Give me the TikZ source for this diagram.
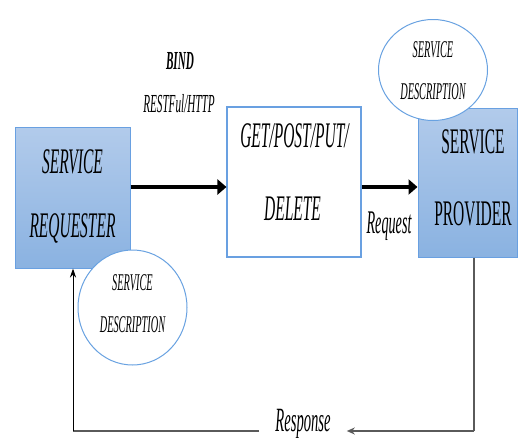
\documentclass[tikz,border=0pt]{standalone}
\usepackage{fontspec}
\setmainfont{Liberation Serif}
\newfontfamily\cf[FakeStretch=0.43]{Liberation Serif}
\usetikzlibrary{shapes.geometric,arrows.meta}
\definecolor{boxtop}{RGB}{178,203,235}
\definecolor{boxbot}{RGB}{138,178,225}
\definecolor{boxline}{RGB}{105,160,225}
\definecolor{circline}{RGB}{105,162,225}
\definecolor{respgray}{RGB}{90,90,90}
\tikzset{
  bluebox/.style={rectangle, top color=boxtop, bottom color=boxbot, draw=boxline, line width=1pt, inner sep=0pt},
  whitebox/.style={rectangle, fill=white, draw=boxline, line width=1.1pt, inner sep=0pt},
  desc/.style={ellipse, fill=white, draw=circline, line width=1pt, inner sep=0pt},
  bigtxt/.style={font=\cf\itshape\fontsize{36}{36}\selectfont, inner sep=0pt},
  bigup/.style={font=\cf\fontsize{36}{36}\selectfont, inner sep=0pt},
  smalltxt/.style={font=\cf\itshape\fontsize{24}{24}\selectfont, inner sep=0pt},
  bigarrow/.style={line width=4pt, -{Triangle[length=9pt,width=15pt]}},
}
\begin{document}
\begin{tikzpicture}[x=1pt,y=-1pt]
\useasboundingbox (0,0) rectangle (520,437);
% boxes
\node[bluebox, minimum width=115pt, minimum height=141pt] (req) at (72.5,197.5) {};
\node[whitebox, minimum width=134pt, minimum height=150pt] (mid) at (294,182) {};
\node[bluebox, minimum width=99pt, minimum height=149pt] (prov) at (467.5,182.5) {};
% box texts
\node[bigtxt] (reqa) at (72.5,162) {SERVICE};
\node[bigtxt] (reqb) at (72.5,228) {REQUESTER};
\node[bigtxt] (mida) at (294.5,136) {GET/POST/PUT/};
\node[bigtxt] (midb) at (292.5,209) {DELETE};
\node[bigup] (prova) at (473,142) {SERVICE};
\node[bigup] (provb) at (473,214) {PROVIDER};
% description circles
\node[desc, minimum width=109pt, minimum height=101pt] (pdesc) at (433,70) {};
\node[smalltxt] (pdesca) at (433,50) {SERVICE};
\node[smalltxt] (pdescb) at (433,92) {DESCRIPTION};
\node[desc, minimum width=109pt, minimum height=115pt] (rdesc) at (132.5,307.5) {};
\node[smalltxt] (rdesca) at (132.5,283) {SERVICE};
\node[smalltxt] (rdescb) at (132.5,325) {DESCRIPTION};
% labels
\node[font=\cf\bfseries\itshape\fontsize{26}{26}\selectfont, inner sep=0pt] (bind) at (180,61) {BIND};
\node[font=\cf\itshape\fontsize{26}{26}\selectfont, inner sep=0pt] (rest) at (179,104) {RESTFul/HTTP};
\node[font=\cf\itshape\fontsize{33}{33}\selectfont, inner sep=0pt] (request) at (389,226) {Request};
\node[font=\cf\itshape\fontsize{34}{34}\selectfont, inner xsep=16pt, inner ysep=0pt, anchor=base] (resp) at (303,431) {Response};
% arrows
\coordinate (a) at (0,187);
\draw[bigarrow] (req.east |- a) -- (mid.west |- a);
\draw[bigarrow] (mid.east |- a) -- (prov.west |- a);
\coordinate (rx) at (474,431);
\coordinate (lx) at (73,431);
\draw[respgray, line width=1.3pt] (prov.south -| rx) -- (rx);
\draw[respgray, line width=2.2pt, -{Stealth[length=8pt,width=7pt]}] (rx) -- (resp.base east);
\draw[respgray, line width=2.2pt] (resp.base west) -- (lx);
\draw[black, line width=0.9pt, -{Stealth[length=9pt,width=6pt]}] (lx) -- (req.south -| lx);
\end{tikzpicture}
\end{document}
